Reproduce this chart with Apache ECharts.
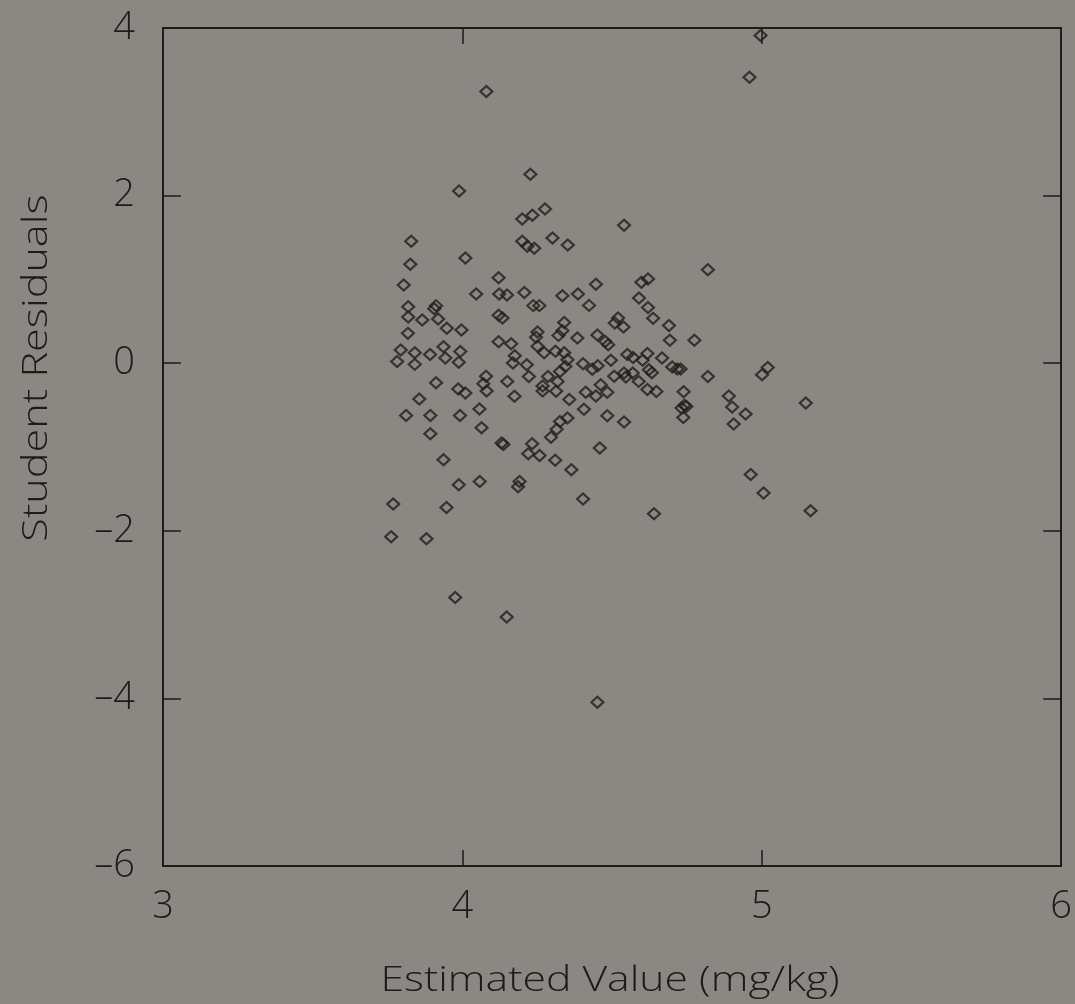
<!DOCTYPE html>
<html>
<head>
<meta charset="utf-8">
<title>Student Residuals vs Estimated Value</title>
<script src="https://cdn.jsdelivr.net/npm/echarts@6/dist/echarts.min.js"></script>
<style>
  html, body { margin: 0; padding: 0; background: #8b8883; }
  #chart { width: 1075px; height: 1004px; }
</style>
</head>
<body>
<div id="chart"></div>
<script>
// Estimated value (mg/kg) of each observation
const estimatedValues = [
  4.996, 4.959, 4.080, 3.989, 4.227, 4.540, 4.276, 4.200, 4.234, 4.301,
  4.352, 4.200, 4.217, 4.240, 3.829, 3.826, 4.010, 4.820, 4.121, 3.804,
  4.446, 4.598, 4.620, 4.046, 4.123, 4.149, 4.207, 4.334, 4.386, 4.590,
  3.819, 3.819, 3.912, 3.906, 4.237, 4.257, 4.423, 4.620, 3.866, 3.919,
  4.121, 4.134, 4.340, 4.520, 4.509, 4.637, 4.538, 4.690, 3.948, 3.997,
  3.818, 4.251, 4.246, 4.334, 4.321, 4.384, 4.451, 4.477, 4.487, 4.693,
  4.775, 4.121, 4.163, 4.251, 3.794, 3.782, 3.841, 3.841, 3.892, 3.937,
  3.943, 3.993, 3.988, 4.175, 4.169, 4.215, 4.273, 4.311, 4.340, 4.351,
  4.344, 4.326, 4.403, 4.434, 4.452, 4.496, 4.551, 4.570, 4.618, 4.602,
  4.667, 4.701, 4.718, 4.729, 5.020, 5.001, 3.912, 4.079, 4.070, 4.081,
  3.986, 4.010, 4.150, 4.222, 4.286, 4.268, 4.268, 4.318, 4.313, 4.174,
  3.856, 4.357, 4.412, 4.446, 4.462, 4.484, 4.507, 4.540, 4.546, 4.569,
  4.589, 4.623, 4.633, 4.618, 4.648, 4.820, 4.739, 4.742, 4.732, 4.748,
  4.738, 4.890, 4.901, 4.946, 4.906, 5.147, 4.057, 3.812, 3.893, 3.992,
  4.064, 3.893, 4.406, 4.351, 4.326, 4.315, 4.296, 4.484, 4.540, 4.137,
  4.131, 4.233, 4.220, 4.258, 4.310, 3.937, 4.364, 4.459, 3.988, 4.058,
  4.191, 4.186, 3.769, 3.947, 4.403, 4.640, 4.963, 5.006, 5.163, 3.762,
  3.880, 3.976, 4.148, 4.451
];

// Student residual of each observation, same order as above
const studentResiduals = [
   3.910,  3.413,  3.242,  2.056,  2.254,  1.645,  1.841,  1.722,  1.765,  1.495,
   1.411,  1.454,  1.395,  1.371,  1.454,  1.180,  1.256,  1.116,  1.021,  0.934,
   0.941,  0.965,  1.005,  0.826,  0.826,  0.814,  0.845,  0.806,  0.826,  0.779,
   0.675,  0.552,  0.687,  0.651,  0.687,  0.687,  0.690,  0.666,  0.516,  0.528,
   0.571,  0.540,  0.487,  0.540,  0.480,  0.535,  0.432,  0.451,  0.416,  0.396,
   0.356,  0.373,  0.310,  0.388,  0.332,  0.301,  0.337,  0.260,  0.221,  0.275,
   0.275,  0.257,  0.233,  0.203,  0.158,  0.021,  0.125, -0.014,  0.105,  0.197,
   0.062,  0.141,  0.010,  0.090,  0.002, -0.018,  0.125,  0.143,  0.125,  0.042,
  -0.038, -0.098, -0.006, -0.072, -0.030,  0.036,  0.105,  0.069,  0.117,  0.036,
   0.062, -0.045, -0.069, -0.069, -0.050, -0.137, -0.233, -0.155, -0.245, -0.332,
  -0.308, -0.356, -0.217, -0.158, -0.158, -0.272, -0.332, -0.217, -0.334, -0.394,
  -0.427, -0.432, -0.346, -0.392, -0.257, -0.346, -0.155, -0.117, -0.165, -0.117,
  -0.217, -0.078, -0.113, -0.313, -0.337, -0.158, -0.340, -0.501, -0.535, -0.516,
  -0.647, -0.392, -0.523, -0.607, -0.726, -0.475, -0.547, -0.623, -0.623, -0.623,
  -0.770, -0.842, -0.549, -0.654, -0.695, -0.788, -0.884, -0.627, -0.702, -0.970,
  -0.953, -0.961, -1.081, -1.101, -1.158, -1.152, -1.272, -1.013, -1.451, -1.411,
  -1.411, -1.475, -1.681, -1.722, -1.621, -1.797, -1.328, -1.550, -1.761, -2.072,
  -2.096, -2.796, -3.030, -4.045
];

// Axis ranges and tick spacing
const xRange = { min: 3, max: 6, step: 1 };
const yRange = { min: -6, max: 4, step: 2 };

const xTitle = 'Estimated Value (mg/kg)';
const yTitle = 'Student Residuals';

const points = estimatedValues.map((v, i) => [v, studentResiduals[i]]);

const ink = '#1c1c1c';
const fontFamily = '"Open Sans", "DejaVu Sans", sans-serif';

const frameLine = { show: true, onZero: false, lineStyle: { color: ink, width: 2 } };
const minusSign = v => String(v).replace('-', '\u2013');
const innerTicks = len => ({ show: true, inside: true, length: len, lineStyle: { color: ink, width: 1.5 } });

const chart = echarts.init(document.getElementById('chart'), null, { renderer: 'canvas' });

chart.setOption({
  backgroundColor: '#8b8883',
  animation: false,
  grid: { left: 163, right: 13, top: 28, bottom: 138, containLabel: false },
  xAxis: [
    {
      type: 'value', position: 'bottom',
      min: xRange.min, max: xRange.max, interval: xRange.step,
      axisLine: frameLine,
      axisTick: innerTicks(16),
      axisLabel: {
        margin: 22, color: ink, fontSize: 38, fontFamily, fontWeight: 300,
        showMinLabel: true, showMaxLabel: true
      },
      splitLine: { show: false }
    },
    {
      type: 'value', position: 'top',
      min: xRange.min, max: xRange.max, interval: xRange.step,
      axisLine: frameLine,
      axisTick: innerTicks(16),
      axisLabel: { show: false },
      splitLine: { show: false }
    }
  ],
  yAxis: [
    {
      type: 'value', position: 'left',
      min: yRange.min, max: yRange.max, interval: yRange.step,
      axisLine: frameLine,
      axisTick: innerTicks(18),
      axisLabel: {
        margin: 28, color: ink, fontSize: 38, fontFamily, fontWeight: 300,
        formatter: minusSign
      },
      splitLine: { show: false }
    },
    {
      type: 'value', position: 'right',
      min: yRange.min, max: yRange.max, interval: yRange.step,
      axisLine: frameLine,
      axisTick: innerTicks(18),
      axisLabel: { show: false },
      splitLine: { show: false }
    }
  ],
  graphic: [
    {
      type: 'text',
      x: 610, y: 981,
      scaleX: 1.22,
      style: {
        text: xTitle,
        fill: ink,
        font: '300 35px ' + fontFamily,
        textAlign: 'center',
        textVerticalAlign: 'middle'
      }
    },
    {
      type: 'text',
      x: 37, y: 368,
      rotation: Math.PI / 2,
      scaleX: 1.27,
      style: {
        text: yTitle,
        fill: ink,
        font: '300 34px ' + fontFamily,
        textAlign: 'center',
        textVerticalAlign: 'middle'
      }
    }
  ],
  series: [
    {
      type: 'scatter',
      xAxisIndex: 0, yAxisIndex: 0,
      data: points,
      symbol: 'diamond',
      symbolSize: [12, 11],
      itemStyle: { color: 'rgba(0,0,0,0)', borderColor: '#1f1f1f', borderWidth: 2.2 },
      emphasis: { disabled: true }
    }
  ]
});
</script>
</body>
</html>
